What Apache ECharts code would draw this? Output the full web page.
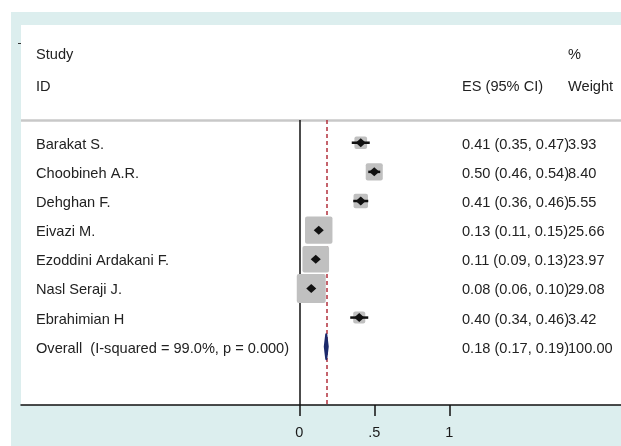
<!DOCTYPE html>
<html>
<head>
<meta charset="utf-8">
<title>Forest plot</title>
<script src="https://cdn.jsdelivr.net/npm/echarts@6/dist/echarts.min.js"></script>
<style>
  html, body { margin: 0; padding: 0; background: #fff; }
  #main { width: 621px; height: 446px; }
</style>
</head>
<body>
<div id="main"></div>
<script>
// study rows
const studies = ['Barakat S.', 'Choobineh A.R.', 'Dehghan F.', 'Eivazi M.',
  'Ezoddini Ardakani F.', 'Nasl Seraji J.', 'Ebrahimian H'];
const es = [0.41, 0.50, 0.41, 0.13, 0.11, 0.08, 0.40];
const lower = [0.35, 0.46, 0.36, 0.11, 0.09, 0.06, 0.34];
const upper = [0.47, 0.54, 0.46, 0.15, 0.13, 0.10, 0.46];
const weights = [3.93, 8.40, 5.55, 25.66, 23.97, 29.08, 3.42];

// pooled estimate
const overallLabel = 'Overall  (I-squared = 99.0%, p = 0.000)';
const overallEs = 0.18;
const overallLower = 0.17;
const overallUpper = 0.19;
const overallWeight = 100.00;

// x axis ticks
const xTicks = [0, 0.5, 1];
const xTickLabels = ['0', '.5', '1'];

const FONT = '"Liberation Sans", Arial, sans-serif';
const TXT = 14.6;
const COL_NAME = 36, COL_ES = 462, COL_W = 568;
const SEP_Y = -0.78;

const chart = echarts.init(document.getElementById('main'));

function fmt(v) { return v.toFixed(2); }

function rowTexts(name, e, lo, hi, w, y) {
  const base = { fontFamily: FONT, fontSize: TXT, fill: '#222', verticalAlign: 'middle' };
  return [
    { type: 'text', style: Object.assign({ x: COL_NAME, y: y + 2, text: name }, base) },
    { type: 'text', style: Object.assign({ x: COL_ES, y: y + 2,
        text: fmt(e) + ' (' + fmt(lo) + ', ' + fmt(hi) + ')' }, base) },
    { type: 'text', style: Object.assign({ x: COL_W, y: y + 2, text: fmt(w) }, base) }
  ];
}

const studyData = studies.map((s, i) => [i, es[i], lower[i], upper[i], weights[i]]);
const overallRow = studies.length;

chart.setOption({
  backgroundColor: '#dceeee',
  animation: false,
  grid: {
    left: 21, right: 0, top: 25, bottom: 41,
    show: true, backgroundColor: '#fff', borderWidth: 0
  },
  xAxis: {
    type: 'value',
    min: -1.855, max: 2.145,
    splitLine: { show: false },
    axisLine: { show: true, onZero: false, lineStyle: { color: '#111', width: 1.5 } },
    axisTick: { show: true, customValues: xTicks, length: 11,
      lineStyle: { color: '#111', width: 1.5 } },
    axisLabel: {
      customValues: xTicks, margin: 20,
      fontFamily: FONT, fontSize: 14.5, color: '#1a1a1a',
      formatter: v => xTickLabels[xTicks.indexOf(v)]
    }
  },
  yAxis: {
    type: 'value', inverse: true, min: -4.04, max: 9.0, show: false
  },
  graphic: [
    { type: 'rect', shape: { x: 0, y: 0, width: 621, height: 12 }, style: { fill: '#fff' }, silent: true },
    { type: 'rect', shape: { x: 0, y: 0, width: 11, height: 446 }, style: { fill: '#fff' }, silent: true },
    { type: 'line', shape: { x1: 18, y1: 43.5, x2: 21, y2: 43.5 }, style: { stroke: '#333', lineWidth: 1 } },
    { type: 'text', left: COL_NAME, top: 47, style: { text: 'Study', fontFamily: FONT, fontSize: TXT, fill: '#222' } },
    { type: 'text', left: COL_NAME, top: 79, style: { text: 'ID', fontFamily: FONT, fontSize: TXT, fill: '#222' } },
    { type: 'text', left: COL_W, top: 47, style: { text: '%', fontFamily: FONT, fontSize: TXT, fill: '#222' } },
    { type: 'text', left: COL_ES, top: 79, style: { text: 'ES (95% CI)', fontFamily: FONT, fontSize: TXT, fill: '#222' } },
    { type: 'text', left: COL_W, top: 79, style: { text: 'Weight', fontFamily: FONT, fontSize: TXT, fill: '#222' } }
  ],
  series: [
    {
      // reference lines: separator, null line, pooled estimate
      type: 'line', data: [], silent: true, z: 1,
      markLine: {
        silent: true, symbol: 'none', label: { show: false }, z: 1,
        data: [
          [{ coord: [-1.855, SEP_Y] }, { coord: [2.145, SEP_Y],
            lineStyle: { color: '#c8c8c8', width: 2.5, type: 'solid' } }],
          [{ coord: [0, SEP_Y] }, { coord: [0, 9.0],
            lineStyle: { color: '#111', width: 1.5, type: 'solid' } }],
          [{ coord: [overallEs, SEP_Y] }, { coord: [overallEs, 9.0],
            lineStyle: { color: '#b3303c', width: 1.5, type: [4, 3] } }]
        ]
      }
    },
    {
      type: 'custom', z: 5,
      data: studyData,
      renderItem: function (params, api) {
        const row = api.value(0);
        const c = api.coord([api.value(1), row]);
        const l = api.coord([api.value(2), row]);
        const r = api.coord([api.value(3), row]);
        const s = 4.78 * Math.sqrt(api.value(4)) + 3.2;
        const d = 5;
        return {
          type: 'group',
          children: [
            { type: 'rect', shape: { x: c[0] - s / 2, y: c[1] - s / 2, width: s, height: s, r: 2 },
              style: { fill: '#c0c0c0' } },
            { type: 'line', shape: { x1: l[0], y1: c[1], x2: r[0], y2: c[1] },
              style: { stroke: '#111', lineWidth: 2.5 } },
            { type: 'polygon', shape: { points: [[c[0] - d, c[1]], [c[0], c[1] - d + 0.5],
                [c[0] + d, c[1]], [c[0], c[1] + d - 0.5]] },
              style: { fill: '#111' } }
          ].concat(rowTexts(studies[params.dataIndex], api.value(1), api.value(2),
            api.value(3), api.value(4), c[1]))
        };
      }
    },
    {
      type: 'custom', z: 5,
      data: [[overallRow, overallEs, overallLower, overallUpper, overallWeight]],
      renderItem: function (params, api) {
        const row = api.value(0);
        const top = api.coord([api.value(1), row - 0.43]);
        const bot = api.coord([api.value(1), row + 0.43]);
        const l = api.coord([api.value(2), row]);
        const r = api.coord([api.value(3), row]);
        return {
          type: 'group',
          children: [
            { type: 'polygon', shape: { points: [[l[0], l[1]], top, [r[0], r[1]], bot] },
              style: { fill: '#1c2a6c', stroke: '#1c2a6c', lineWidth: 2, lineJoin: 'round' } }
          ].concat(rowTexts(overallLabel, api.value(1), api.value(2),
            api.value(3), api.value(4), l[1]))
        };
      }
    }
  ]
});
</script>
</body>
</html>
